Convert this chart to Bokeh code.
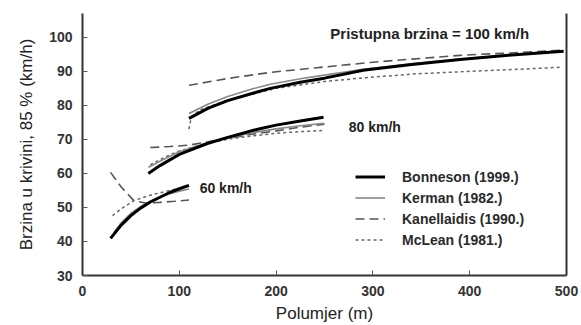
from bokeh.plotting import figure
from bokeh.models import Range1d, LinearAxis, Label, Legend, LegendItem, FixedTicker
from bokeh.embed import file_html
from bokeh.resources import INLINE

# Data: radius (m) vs 85th percentile curve speed (km/h)
# 60 km/h approach speed
b60_x = [29, 40, 50, 60, 70, 80, 90, 100, 110]
b60_y = [40.9, 44.8, 47.6, 49.8, 51.6, 53.0, 54.4, 55.5, 56.5]
k60_x = [32, 40, 50, 60, 70, 80, 90, 100, 110]
k60_y = [42.5, 45.5, 48.3, 50.2, 51.8, 53.0, 54.0, 54.8, 55.4]
ka60_x = [29, 40, 53, 65, 80, 95, 110]
ka60_y = [60.3, 56.0, 52.0, 51.3, 51.5, 51.8, 52.2]
m60_x = [31, 40, 53, 70, 90, 110]
m60_y = [47.6, 49.6, 52.0, 53.6, 55.0, 56.2]

# 80 km/h approach speed
b80_x = [68, 80, 100, 129, 150, 181, 200, 225, 249]
b80_y = [60.0, 62.3, 65.6, 68.8, 70.6, 73.0, 74.2, 75.4, 76.5]
k80_x = [68, 80, 100, 129, 150, 181, 200, 225, 249]
k80_y = [61.8, 63.6, 66.4, 69.0, 70.5, 72.2, 73.1, 74.0, 74.7]
ka80_x = [70, 90, 110, 130, 150, 175, 200, 225, 250]
ka80_y = [67.6, 67.9, 68.3, 69.3, 70.3, 71.5, 72.5, 73.6, 74.5]
m80_x = [70, 85, 100, 125, 153, 175, 200, 225, 249]
m80_y = [62.5, 64.8, 66.6, 68.6, 70.2, 71.0, 71.8, 72.3, 72.6]

# 100 km/h approach speed
b100_x = [110, 130, 150, 175, 194, 225, 250, 290, 340, 390, 440, 497]
b100_y = [76.2, 79.2, 81.4, 83.5, 85.0, 86.8, 88.0, 90.3, 92.0, 93.5, 94.7, 95.9]
k100_x = [110, 130, 150, 175, 194, 225, 250, 290, 340, 390, 440, 497]
k100_y = [77.6, 80.4, 82.6, 84.8, 86.2, 87.8, 88.9, 90.6, 92.2, 93.6, 94.8, 96.0]
ka100_x = [110, 150, 194, 240, 297, 340, 390, 440, 494]
ka100_y = [85.9, 87.9, 89.7, 91.0, 92.6, 93.6, 94.7, 95.4, 96.2]
m100_x = [110, 112, 120, 150, 200, 250, 287, 340, 400, 450, 494]
m100_y = [73.0, 76.0, 78.5, 81.5, 85.0, 87.0, 88.0, 89.2, 90.0, 90.6, 91.2]

x_ticks = [0, 100, 200, 300, 400, 500]
y_ticks = [30, 40, 50, 60, 70, 80, 90, 100]

FONT = "Liberation Sans"

p = figure(width=581, height=325, output_backend="svg", toolbar_location=None,
           x_range=Range1d(0, 500), y_range=Range1d(30, 107),
           x_axis_type=None, y_axis_type=None,
           min_border_left=82, min_border_right=15, min_border_top=13, min_border_bottom=50)
p.outline_line_color = None
p.xgrid.visible = False
p.ygrid.visible = False
p.background_fill_color = "white"
p.border_fill_color = "white"

xa = LinearAxis(ticker=FixedTicker(ticks=x_ticks), axis_label="Polumjer (m)")
ya = LinearAxis(ticker=FixedTicker(ticks=y_ticks), axis_label="Brzina u krivini, 85 % (km/h)")
for ax in (xa, ya):
    ax.major_tick_in = 5
    ax.major_tick_out = 0
    ax.minor_tick_line_color = None
    ax.axis_line_color = "#333333"
    ax.axis_line_width = 2
    ax.major_tick_line_color = "#555555"
    ax.major_label_text_font = FONT
    ax.major_label_text_font_size = "14px"
    ax.major_label_text_font_style = "bold"
    ax.major_label_text_color = "#333333"
    ax.axis_label_text_font = FONT
    ax.axis_label_text_font_size = "17px"
    ax.axis_label_text_font_style = "normal"
    ax.axis_label_text_color = "#222222"
xa.major_label_standoff = 10
xa.axis_label_standoff = 5
ya.major_label_standoff = 10
ya.axis_label_standoff = 10
p.add_layout(xa, "below")
p.add_layout(ya, "left")

ra = LinearAxis(ticker=FixedTicker(ticks=[]), major_label_text_font_size="0px")
ra.axis_line_color = "#333333"
ra.axis_line_width = 2
ra.major_tick_line_color = None
ra.minor_tick_line_color = None
p.add_layout(ra, "right")

styles = {
    "ka": dict(line_color="#555555", line_width=1.6, line_dash="9 5"),
    "m": dict(line_color="#666666", line_width=1.5, line_dash="3 3"),
    "k": dict(line_color="#888888", line_width=1.6),
    "b": dict(line_color="black", line_width=3),
}

rend = {}
for key, groups in [("ka", [(ka60_x, ka60_y), (ka80_x, ka80_y), (ka100_x, ka100_y)]),
                    ("m", [(m60_x, m60_y), (m80_x, m80_y), (m100_x, m100_y)]),
                    ("k", [(k60_x, k60_y), (k80_x, k80_y), (k100_x, k100_y)]),
                    ("b", [(b60_x, b60_y), (b80_x, b80_y), (b100_x, b100_y)])]:
    rs = []
    for xs, ys in groups:
        rs.append(p.line(xs, ys, **styles[key]))
    rend[key] = rs

legend = Legend(items=[
    LegendItem(label="Bonneson (1999.)", renderers=[rend["b"][0]]),
    LegendItem(label="Kerman (1982.)", renderers=[rend["k"][0]]),
    LegendItem(label="Kanellaidis (1990.)", renderers=[rend["ka"][0]]),
    LegendItem(label="McLean (1981.)", renderers=[rend["m"][0]]),
], location=(273, 25))
legend.background_fill_alpha = 0
legend.border_line_color = None
legend.padding = 0
legend.margin = 0
legend.spacing = 0
legend.glyph_width = 30
legend.glyph_height = 21
legend.label_height = 21
legend.label_standoff = 17
legend.label_text_font = FONT
legend.label_text_font_size = "14px"
legend.label_text_font_style = "bold"
legend.label_text_color = "#2a2a2a"
p.add_layout(legend, "center")

def lab(x, y, t, size="14px"):
    p.add_layout(Label(x=x, y=y, text=t, text_font=FONT, text_font_size=size,
                       text_font_style="bold", text_color="#222222",
                       text_baseline="middle", text_align="left"))

lab(256, 101.2, "Pristupna brzina = 100 km/h", "15px")
lab(275, 73.5, "80 km/h")
lab(121, 55.6, "60 km/h")

open("out.html", "w").write(file_html(p, INLINE))
